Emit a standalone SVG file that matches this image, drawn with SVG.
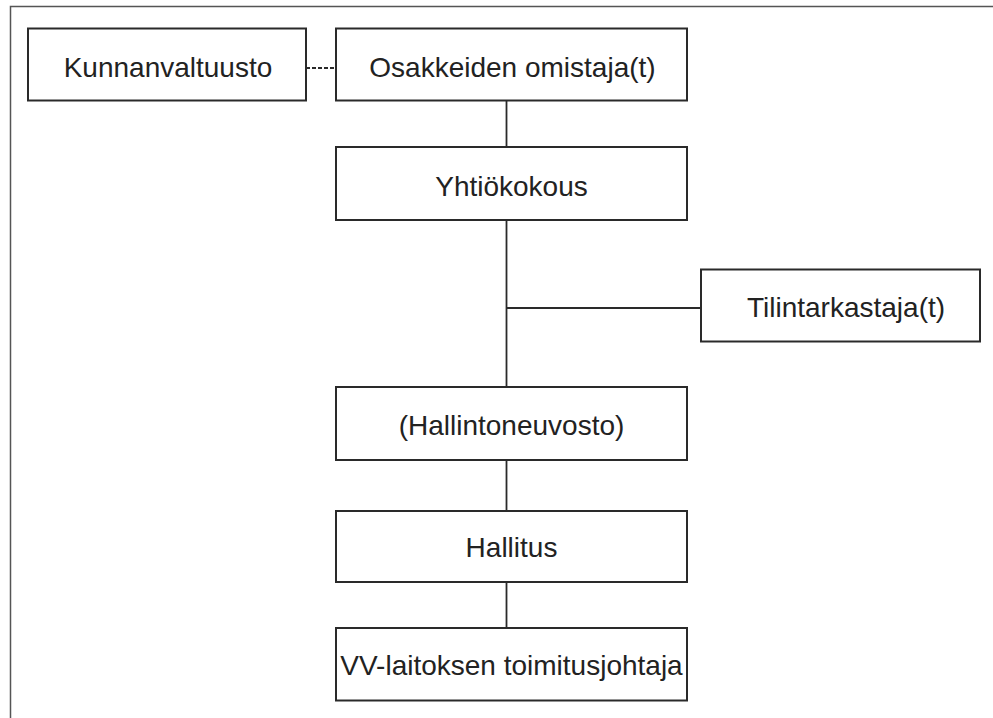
<svg xmlns="http://www.w3.org/2000/svg" width="993" height="718" viewBox="0 0 993 718">
<style>
.box{fill:#fff;stroke:#2a2a2a;stroke-width:2}
.lbl{font-family:"Liberation Sans",Arial,sans-serif;font-size:28px;fill:#222;text-anchor:middle;dominant-baseline:central}
.ln{stroke:#2a2a2a;stroke-width:1.8;fill:none}
.dash{stroke:#2a2a2a;stroke-width:1.8;stroke-dasharray:4 2;fill:none}
.frame{stroke:#555;stroke-width:1.5;fill:none}
</style>
<rect width="993" height="718" fill="#fff"/>
<path class="frame" d="M10.5 718 V6.5 H993"/>
<g id="connectors">
<line class="dash" x1="306" y1="68" x2="336" y2="68"/>
<line class="ln" x1="506.5" y1="101" x2="506.5" y2="147"/>
<line class="ln" x1="506.5" y1="220" x2="506.5" y2="387"/>
<line class="ln" x1="506.5" y1="308" x2="701" y2="308"/>
<line class="ln" x1="506.5" y1="460" x2="506.5" y2="511"/>
<line class="ln" x1="506.5" y1="582" x2="506.5" y2="628"/>
</g>
<g id="kunnanvaltuusto"><rect class="box" x="28" y="28.5" width="278" height="72"/><text class="lbl" x="168" y="67">Kunnanvaltuusto</text></g>
<g id="osakkeiden"><rect class="box" x="336" y="28.5" width="351" height="72"/><text class="lbl" x="512.5" y="67">Osakkeiden omistaja(t)</text></g>
<g id="yhtiokokous"><rect class="box" x="336" y="147" width="351" height="73"/><text class="lbl" x="511.5" y="186">Yhtiökokous</text></g>
<g id="tilintarkastaja"><rect class="box" x="701" y="269.5" width="279" height="72"/><text class="lbl" x="846" y="307">Tilintarkastaja(t)</text></g>
<g id="hallintoneuvosto"><rect class="box" x="336" y="387" width="351" height="73"/><text class="lbl" x="511.5" y="425">(Hallintoneuvosto)</text></g>
<g id="hallitus"><rect class="box" x="336" y="511" width="351" height="71"/><text class="lbl" x="511.5" y="547">Hallitus</text></g>
<g id="toimitusjohtaja"><rect class="box" x="336" y="628" width="351" height="72.5"/><text class="lbl" x="511.5" y="665">VV-laitoksen toimitusjohtaja</text></g>
</svg>
